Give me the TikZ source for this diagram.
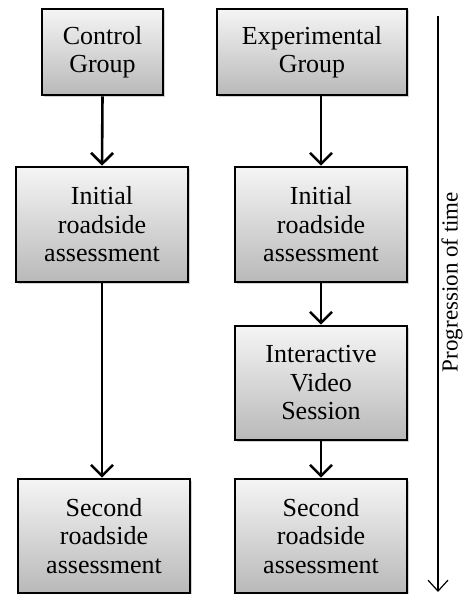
\documentclass[tikz,border=0pt]{standalone}
\usepackage{fontspec}
\setmainfont{Liberation Serif}
\usetikzlibrary{arrows.meta}
\usetikzlibrary{shadows}
\usetikzlibrary{calc}

\tikzset{
  stage/.style={draw=black, line width=2.6pt, top color=gray!8, bottom color=gray!55,
    drop shadow={shadow xshift=1.5pt, shadow yshift=-1.5pt, opacity=0.35},
    align=center, inner sep=0pt,
    font=\fontsize{26}{28.5}\selectfont},
  flow/.style={line width=2.6pt, -{Straight Barb[length=11pt, width=22pt, line width=2.6pt]}},
}

\begin{document}
\begin{tikzpicture}[x=1pt,y=-1pt]
\useasboundingbox (0,0) rectangle (466,594);

% groups
\node [stage, minimum width=121pt, minimum height=86pt] (control) at (102.5,52) {Control\\Group};
\node [stage, minimum width=190pt, minimum height=86pt] (exper) at (312,52) {Experimental\\Group};

% first assessment
\node [stage, minimum width=172pt, minimum height=115pt] (initC) at (102,224.5) {Initial\\roadside\\assessment};
\node [stage, minimum width=172pt, minimum height=115pt] (initE) at (321,224.5) {Initial\\roadside\\assessment};

% intervention
\node [stage, minimum width=172pt, minimum height=114pt] (video) at (321,383) {Interactive\\Video\\Session};

% second assessment
\node [stage, minimum width=172pt, minimum height=114pt] (secondC) at (104,536) {Second\\roadside\\assessment};
\node [stage, minimum width=172pt, minimum height=114pt] (secondE) at (321,536) {Second\\roadside\\assessment};

\draw [flow] (control.south) -- (initC.north);
\draw [flow] (exper.south -| initE.north) -- (initE.north);
\draw [flow] (initC.south) -- (initC.south |- secondC.north);
\draw [flow] (initE.south) -- (video.north);
\draw [flow] (video.south) -- (secondE.north);

% time axis
\coordinate (tstart) at (438,16);
\coordinate (tend) at (438,592);
\draw [line width=1.2pt, -{Straight Barb[length=11pt, width=20pt, line width=1.2pt]}] (tstart) -- (tend);
\node [rotate=90, font=\fontsize{23}{26}\selectfont] (timelabel) at (452,282) {Progression of time};

\end{tikzpicture}
\end{document}
